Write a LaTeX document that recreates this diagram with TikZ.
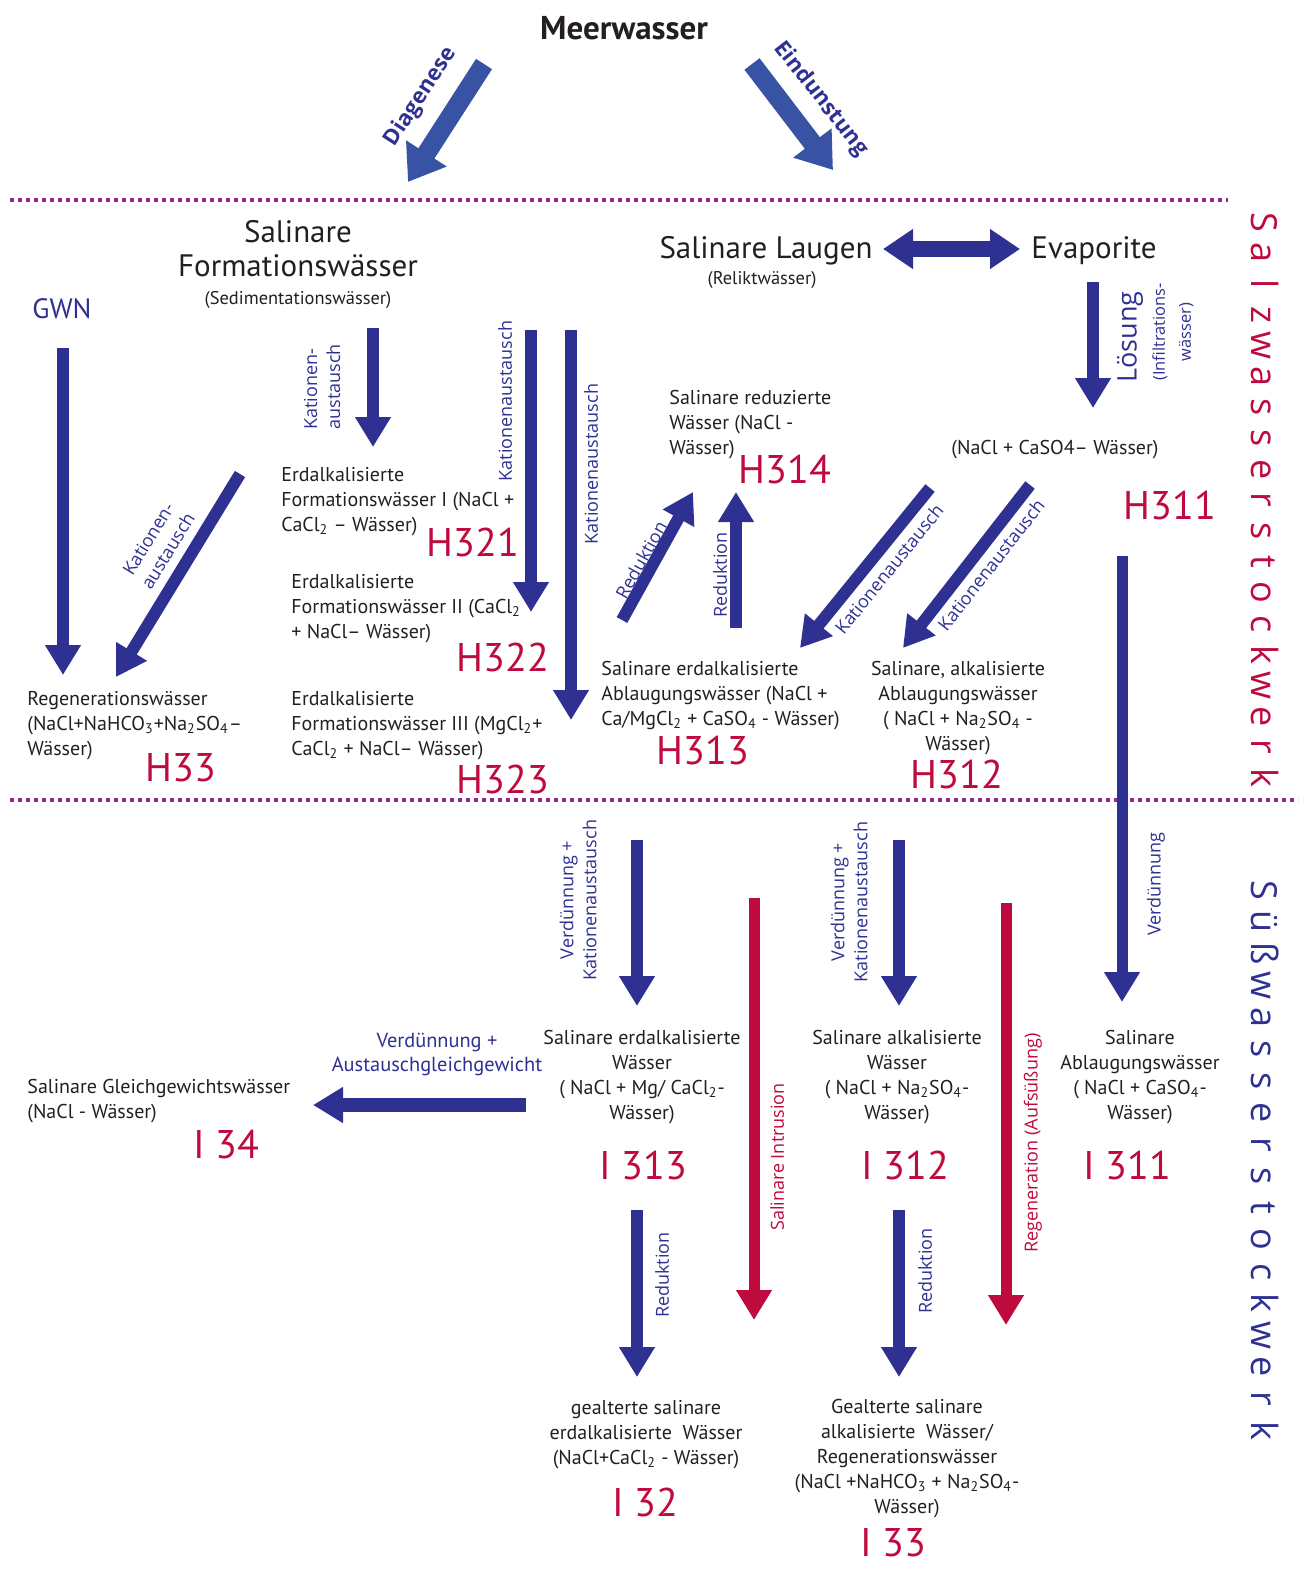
\documentclass[tikz,border=0pt]{standalone}
\usepackage{fontspec}
\setmainfont{PT Sans}
\newfontfamily\lblfont{Open Sans}
\usetikzlibrary{arrows.meta}

\definecolor{flowblue}{HTML}{2E3192}
\definecolor{seablue}{HTML}{3953A4}
\definecolor{codered}{HTML}{BE0A3D}
\definecolor{txtgray}{HTML}{231F20}
\definecolor{zonepurple}{HTML}{92278F}

\newcommand{\ix}[1]{\textsubscript{#1}}

\tikzset{
  water/.style={text=txtgray, font=\fontsize{10}{12.5}\selectfont, inner sep=0pt, align=left},
  waterc/.style={water, align=center},
  head/.style={text=txtgray, font=\fontsize{15.5}{17}\selectfont, inner sep=0pt, align=center},
  code/.style={text=codered, font=\fontsize{20}{20}\selectfont, inner sep=0pt},
  proc/.style={text=flowblue, font=\lblfont\fontsize{9}{11.5}\selectfont, inner sep=0pt, align=center},
  side/.style={font=\lblfont\fontsize{18}{18}\selectfont, inner sep=0pt, anchor=base, rotate=-90},
  flow/.style={draw=flowblue, line width=6pt, -{Triangle[width=17pt,length=15pt]}},
  redflow/.style={flow, draw=codered, line width=5.5pt},
  seaflow/.style={draw=seablue, line width=9.5pt, -{Triangle[width=23pt,length=17pt]}},
  zone/.style={draw=zonepurple, line width=2pt, dash pattern=on 2pt off 2pt},
}

\begin{document}
\begin{tikzpicture}[x=0.5pt,y=-0.5pt]
  \useasboundingbox (0,0) rectangle (1303,1574);

  % Meerwasser
  \node[text=txtgray, font=\bfseries\fontsize{16.5}{18}\selectfont] (meer) at (624,28) {Meerwasser};
  \coordinate (dgs) at (484,64);  \coordinate (dge) at (408,182);
  \coordinate (eds) at (752,64);  \coordinate (ede) at (833,170);
  \draw[seaflow] (dgs) -- (dge);
  \draw[seaflow] (eds) -- (ede);
  \node[proc, font=\lblfont\bfseries\fontsize{11}{12}\selectfont, rotate=57] (diag) at (421,97) {Diagenese};
  \node[proc, font=\lblfont\bfseries\fontsize{11}{12}\selectfont, rotate=-52] (eind) at (821,99) {Eindunstung};

  % Stockwerksgrenzen
  \coordinate (zl1) at (10,200);  \coordinate (zr1) at (1228,200);
  \coordinate (zl2) at (10,800);  \coordinate (zr2) at (1298,800);
  \draw[zone] (zl1) -- (zr1);
  \draw[zone] (zl2) -- (zr2);

  \foreach \l [count=\i from 0] in {S,a,l,z,w,a,s,s,e,r,s,t,o,c,k,w,e,r,k}
    \node[side, text=codered] (salz\i) at (1251,222+30.9*\i) {\l};
  \foreach \l [count=\i from 0] in {S,ü,ß,w,a,s,s,e,r,s,t,o,c,k,w,e,r,k}
    \node[side, text=flowblue] (suess\i) at (1251,890+31.8*\i) {\l};

  % Salzwasserstockwerk, links
  \node[head] (sfw) at (298,249) {Salinare\\Formationswässer};
  \node[text=txtgray, font=\fontsize{9.2}{10}\selectfont, inner sep=0pt] (sed) at (298,300) {(Sedimentationswässer)};
  \node[text=flowblue, font=\fontsize{14}{15}\selectfont, inner sep=0pt] (gwn) at (62,309) {GWN};

  \node[water, anchor=north west] (fw1) at (281,467) {Erdalkalisierte\\Formationswässer I (NaCl +\\CaCl\ix{2} – Wässer)};
  \node[water, anchor=north west] (fw2) at (291,574) {Erdalkalisierte\\Formationswässer II (CaCl\ix{2}\\+ NaCl– Wässer)};
  \node[water, anchor=north west] (fw3) at (291,691) {Erdalkalisierte\\Formationswässer III (MgCl\ix{2}+\\CaCl\ix{2} + NaCl– Wässer)};
  \node[water, anchor=north west] (regen) at (27,691) {Regenerationswässer\\(NaCl+NaHCO\ix{3}+Na\ix{2}SO\ix{4}–\\Wässer)};

  \node[code] (h321) at (473,542) {H321};
  \node[code] (h322) at (503,657) {H322};
  \node[code] (h323) at (503,779) {H323};
  \node[code] (h33) at (181,768) {H33};

  \coordinate (a1s) at (63,348);   \coordinate (a1e) at (63,675);
  \coordinate (a2s) at (240,474);  \coordinate (a2e) at (116,677);
  \coordinate (a3s) at (373,328);  \coordinate (a3e) at (373,447);
  \coordinate (a4s) at (531,330);  \coordinate (a4e) at (531,612);
  \coordinate (a5s) at (571,330);  \coordinate (a5e) at (571,720);
  \draw[flow] (a1s) -- (a1e);
  \draw[flow] (a2s) -- (a2e);
  \draw[flow] (a3s) -- (a3e);
  \draw[flow] (a4s) -- (a4e);
  \draw[flow] (a5s) -- (a5e);
  \node[proc, rotate=58.6] (k2) at (158,545) {Kationen-\\austausch};
  \node[proc, rotate=90, align=left] (k3) at (322,387) {Kationen-\\austausch};
  \node[proc, rotate=90] (k4) at (505,401) {Kationenaustausch};
  \node[proc, rotate=90] (k5) at (591,464) {Kationenaustausch};

  % Salzwasserstockwerk, rechts
  \node[head] (laugen) at (766,251) {Salinare Laugen};
  \node[text=txtgray, font=\fontsize{9.2}{10}\selectfont, inner sep=0pt] (relikt) at (762,280) {(Reliktwässer)};
  \node[head] (evap) at (1094,251) {Evaporite};
  \coordinate (dbl) at (883,249);  \coordinate (dbr) at (1020,249);
  \draw[draw=flowblue, line width=8pt, {Triangle[width=19pt,length=15pt]}-{Triangle[width=19pt,length=15pt]}] (dbl) -- (dbr);

  \coordinate (a7s) at (1093,282);  \coordinate (a7e) at (1093,408);
  \draw[flow] (a7s) -- (a7e);
  \node[proc, font=\lblfont\fontsize{13.5}{14}\selectfont, rotate=90] (loes) at (1130,337) {Lösung};
  \node[proc, font=\lblfont\fontsize{8.2}{13}\selectfont, rotate=90] (infil) at (1173,332) {(Infiltrations-\\wässer)};

  \node[water, anchor=north west] (reduz) at (669,390) {Salinare reduzierte\\Wässer (NaCl -\\Wässer)};
  \node[water] (nacaso) at (1055,450) {(NaCl + CaSO4– Wässer)};
  \node[code] (h314) at (785,469) {H314};
  \node[code] (h311) at (1170,505) {H311};

  \coordinate (a8s) at (622,620);   \coordinate (a8e) at (693,492);
  \coordinate (a9s) at (736,628);   \coordinate (a9e) at (736,492);
  \coordinate (a10s) at (930,488);  \coordinate (a10e) at (800,648);
  \coordinate (a11s) at (1030,485); \coordinate (a11e) at (903,648);
  \coordinate (a12s) at (1122,556); \coordinate (a12e) at (1122,1002);
  \draw[flow] (a8s) -- (a8e);
  \draw[flow] (a9s) -- (a9e);
  \draw[flow] (a10s) -- (a10e);
  \draw[flow] (a11s) -- (a11e);
  \draw[flow, line width=5.5pt] (a12s) -- (a12e);
  \node[proc, rotate=61] (r8) at (641,560) {Reduktion};
  \node[proc, rotate=90] (r9) at (720,575) {Reduktion};
  \node[proc, rotate=51] (k10) at (889,569) {Kationenaustausch};
  \node[proc, rotate=52] (k11) at (991,565) {Kationenaustausch};
  \node[proc, rotate=90] (v12) at (1156,884) {Verdünnung};

  \node[water, anchor=north west] (erdabl) at (601,661) {Salinare erdalkalisierte\\Ablaugungswässer (NaCl +\\Ca/MgCl\ix{2} + CaSO\ix{4} - Wässer)};
  \node[waterc, anchor=north] (alkabl) at (958,661) {Salinare, alkalisierte\\Ablaugungswässer\\( NaCl + Na\ix{2}SO\ix{4} -\\Wässer)};
  \node[code] (h313) at (703,750) {H313};
  \node[code] (h312) at (957,774) {H312};

  % Suesswasserstockwerk
  \coordinate (a13s) at (637,840);  \coordinate (a13e) at (637,1006);
  \coordinate (a14s) at (754,898);  \coordinate (a14e) at (754,1320);
  \coordinate (a15s) at (899,840);  \coordinate (a15e) at (899,1006);
  \coordinate (a16s) at (1006,903); \coordinate (a16e) at (1006,1325);
  \coordinate (a17s) at (526,1105); \coordinate (a17e) at (313,1105);
  \coordinate (a18s) at (637,1210); \coordinate (a18e) at (637,1377);
  \coordinate (a19s) at (899,1210); \coordinate (a19e) at (899,1377);
  \draw[flow] (a13s) -- (a13e);
  \draw[redflow] (a14s) -- (a14e);
  \draw[flow] (a15s) -- (a15e);
  \draw[redflow] (a16s) -- (a16e);
  \draw[flow, line width=7pt] (a17s) -- (a17e);
  \draw[flow] (a18s) -- (a18e);
  \draw[flow] (a19s) -- (a19e);
  \node[proc, rotate=90] (vk13) at (578,900) {Verdünnung +\\Kationenaustausch};
  \node[proc, rotate=90, text=codered] (intr) at (777,1157) {Salinare Intrusion};
  \node[proc, rotate=90] (vk15) at (849,902) {Verdünnung +\\Kationenaustausch};
  \node[proc, rotate=90, text=codered] (aufs) at (1033,1143) {Regeneration (Aufsüßung)};
  \node[proc, font=\fontsize{10.2}{12}\selectfont] (vaus) at (437,1054) {Verdünnung +\\Austauschgleichgewicht};
  \node[proc, rotate=90] (r18) at (662,1275) {Reduktion};
  \node[proc, rotate=90] (r19) at (925,1271) {Reduktion};

  \node[waterc, anchor=north] (ew) at (642,1030) {Salinare erdalkalisierte\\Wässer\\( NaCl + Mg/ CaCl\ix{2}-\\Wässer)};
  \node[waterc, anchor=north] (aw) at (897,1030) {Salinare alkalisierte\\Wässer\\( NaCl + Na\ix{2}SO\ix{4}-\\Wässer)};
  \node[waterc, anchor=north] (abw) at (1140,1030) {Salinare\\Ablaugungswässer\\( NaCl + CaSO\ix{4}-\\Wässer)};
  \node[water, anchor=north west] (gleich) at (27,1079) {Salinare Gleichgewichtswässer\\(NaCl - Wässer)};
  \node[code] (i313) at (643,1165) {I 313};
  \node[code] (i312) at (905,1165) {I 312};
  \node[code] (i311) at (1127,1165) {I 311};
  \node[code] (i34) at (226,1145) {I 34};

  \node[waterc, anchor=north] (gew) at (646,1400) {gealterte salinare\\erdalkalisierte\ \ Wässer\\(NaCl+CaCl\ix{2} - Wässer)};
  \node[waterc, anchor=north] (gaw) at (907,1399) {Gealterte salinare\\alkalisierte\ \ Wässer/\\Regenerationswässer\\(NaCl +NaHCO\ix{3} + Na\ix{2}SO\ix{4}-\\Wässer)};
  \node[code] (i32) at (645,1502) {I 32};
  \node[code] (i33) at (893,1543) {I 33};
\end{tikzpicture}
\end{document}
